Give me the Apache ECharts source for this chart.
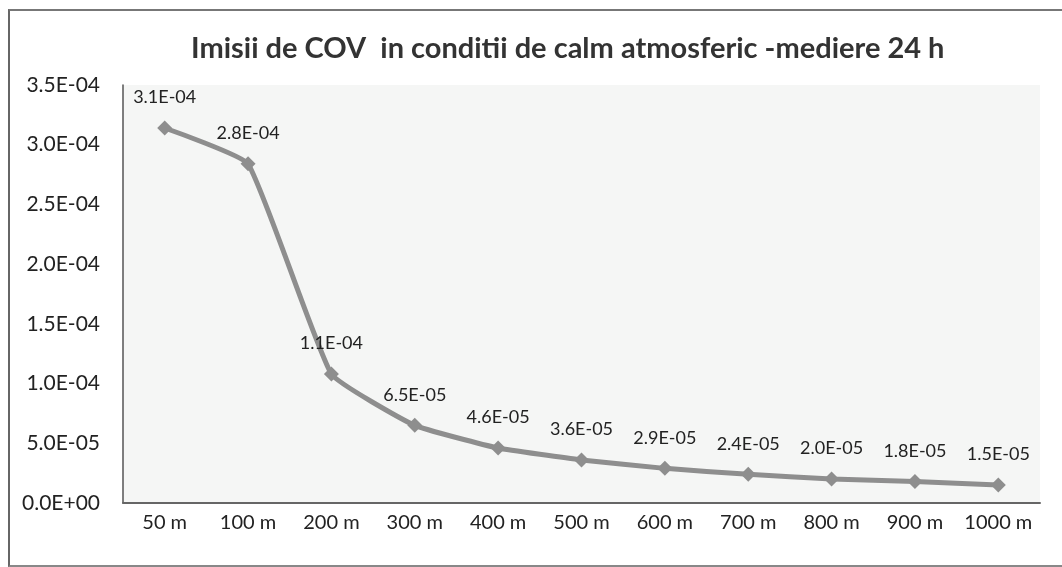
<!DOCTYPE html>
<html>
<head>
<meta charset="utf-8">
<script src="https://cdn.jsdelivr.net/npm/echarts@6/dist/echarts.min.js"></script>
<style>
html,body{margin:0;padding:0;background:#fff;}
#frame{position:absolute;left:8px;top:9px;width:1060px;height:554px;border-left:2px solid #666;border-top:2px solid #777;border-bottom:2px solid #888;}
#c{position:absolute;left:0;top:0;width:1062px;height:567px;}
</style>
</head>
<body>
<div id="frame"></div>
<div id="c"></div>
<script>
var categories = ['50 m','100 m','200 m','300 m','400 m','500 m','600 m','700 m','800 m','900 m','1000 m'];
var values = [3.14e-4, 2.84e-4, 1.08e-4, 6.5e-5, 4.6e-5, 3.6e-5, 2.9e-5, 2.4e-5, 2.0e-5, 1.8e-5, 1.5e-5];
var titleText = 'Imisii de COV  in conditii de calm atmosferic -mediere 24 h';

function sci(v){
  var s = Number(v).toExponential(1);
  var m = s.split('e');
  var exp = parseInt(m[1],10);
  var sign = exp < 0 ? '-' : '+';
  var a = Math.abs(exp);
  return m[0] + 'E' + sign + (a < 10 ? '0' + a : a);
}

var chart = echarts.init(document.getElementById('c'), null, {renderer:'canvas'});
chart.setOption({
  animation:false,
  backgroundColor:'transparent',
  title:{
    text:titleText,
    left:186,
    top:29,
    textStyle:{fontFamily:'Lato',fontWeight:'bold',fontSize:29,color:'#333'}
  },
  grid:{left:123,right:22,top:85,bottom:64,show:true,backgroundColor:'#f5f6f5',borderWidth:0},
  xAxis:{
    type:'category',
    data:categories,
    boundaryGap:true,
    axisLine:{lineStyle:{color:'#666',width:2}},
    axisTick:{show:false},
    axisLabel:{interval:0,fontFamily:'Lato',fontSize:20,color:'#222',margin:10}
  },
  yAxis:{
    type:'value',
    min:0,
    max:3.5e-4,
    interval:5e-5,
    axisLine:{show:true,lineStyle:{color:'#555',width:1.5}},
    axisTick:{show:false},
    splitLine:{show:false},
    axisLabel:{fontFamily:'Lato',fontSize:21,color:'#222',margin:23,formatter:sci}
  },
  series:[{
    type:'line',
    data:values,
    smooth:0.12,
    symbol:'diamond',
    symbolSize:15,
    lineStyle:{color:'#8e8e8e',width:5},
    itemStyle:{color:'#8e8e8e'},
    label:{show:true,position:'top',distance:14,fontFamily:'Lato',fontSize:18,color:'#222',formatter:function(p){return sci(p.value);}}
  }]
});
</script>
</body>
</html>
